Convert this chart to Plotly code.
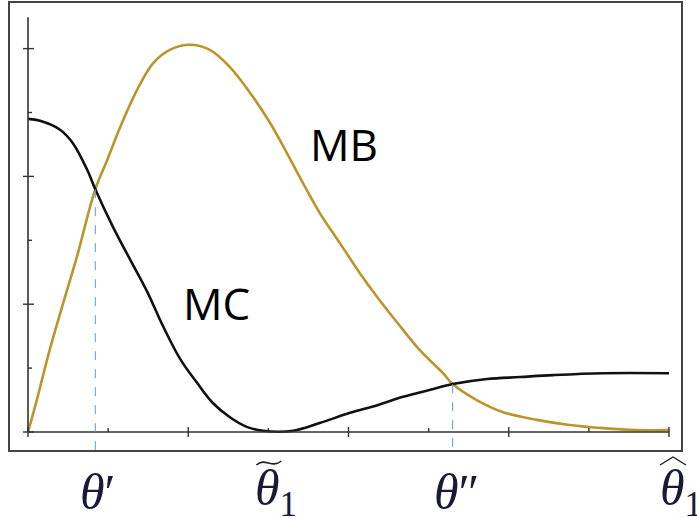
import plotly.graph_objects as go

W, H = 697, 518
X0PX, XUNIT = 28.0, 80.125
Y0PX, YUNIT = 432.0, 63.9
xr = [(0 - X0PX) / XUNIT, (W - X0PX) / XUNIT]
yr = [(Y0PX - H) / YUNIT, (Y0PX - 0) / YUNIT]

# ---- data ----
mc_x = [0.0, 0.15, 0.40, 0.56, 0.74, 0.84, 1.06, 1.27, 1.49, 1.68, 1.90, 2.11, 2.31, 2.52, 2.73,
        2.93, 3.31, 3.64, 4.02, 4.36, 4.68, 5.02, 5.30, 5.73, 6.14, 6.55, 7.18, 8.0]
mc_y = [4.90, 4.87, 4.73, 4.52, 4.10, 3.80, 3.21, 2.71, 2.19, 1.67, 1.14, 0.77, 0.45, 0.23, 0.08,
        0.02, 0.02, 0.14, 0.30, 0.42, 0.55, 0.66, 0.75, 0.83, 0.86, 0.89, 0.92, 0.92]
mb_x = [0.0, 0.11, 0.27, 0.44, 0.61, 0.84, 0.99, 1.15, 1.36, 1.56, 1.77, 2.02, 2.27, 2.52, 2.77,
        3.02, 3.23, 3.43, 3.64, 3.89, 4.14, 4.36, 4.61, 4.89, 5.18, 5.30, 5.60, 5.93, 6.35, 6.76,
        7.18, 7.60, 8.0]
mb_y = [0.0, 0.50, 1.28, 2.02, 2.74, 3.80, 4.26, 4.77, 5.35, 5.77, 5.98, 6.06, 5.98, 5.71, 5.31,
        4.84, 4.37, 3.90, 3.43, 2.96, 2.49, 2.11, 1.71, 1.28, 0.92, 0.75, 0.50, 0.31, 0.19, 0.11,
        0.06, 0.03, 0.03]
x_ticks = [0, 1, 2, 3, 4, 5, 6, 7, 8]
x_major = [0, 2, 4, 6, 8]
y_ticks = [0, 1, 2, 3, 4, 5, 6]
y_major = [0, 2, 4, 6]
y_top = 6.49
cross_x = [0.84, 5.30]
cross_y = [3.80, 0.75]
label_x = [0.84, 3.0, 5.30, 8.0]

GOLD = "#B9962C"
BLUE = "#5B9BD5"
AXC = "#333333"
LAB = "#1a1a36"

fig = go.Figure()
fig.add_trace(go.Scatter(x=mb_x, y=mb_y, mode="lines",
                         line=dict(color=GOLD, width=2.6, shape="spline", smoothing=1.0),
                         hoverinfo="skip"))
fig.add_trace(go.Scatter(x=mc_x, y=mc_y, mode="lines",
                         line=dict(color="#111111", width=2.6, shape="spline", smoothing=1.0),
                         hoverinfo="skip"))

shapes = []
shapes.append(dict(type="rect", xref="paper", yref="paper",
                   x0=9 / W, x1=682 / W, y0=1 - 451 / H, y1=1 - 2 / H,
                   line=dict(color="#444444", width=2), layer="below"))
shapes.append(dict(type="line", xref="x", yref="y", x0=0, x1=0, y0=0, y1=y_top,
                   line=dict(color=AXC, width=1.6)))
shapes.append(dict(type="line", xref="x", yref="y", x0=0, x1=8, y0=0, y1=0,
                   line=dict(color=AXC, width=1.6)))
for t in x_ticks:
    if t in x_major:
        a, b = -5 / YUNIT, 5 / YUNIT
    else:
        a, b = 0, 4 / YUNIT
    shapes.append(dict(type="line", xref="x", yref="y", x0=t, x1=t, y0=a, y1=b,
                       line=dict(color=AXC, width=1.4)))
for t in y_ticks:
    if t in y_major:
        a, b = -5 / XUNIT, 6 / XUNIT
    else:
        a, b = 0, 4 / XUNIT
    shapes.append(dict(type="line", xref="x", yref="y", x0=a, x1=b, y0=t, y1=t,
                       line=dict(color=AXC, width=1.4)))
for cx, cy in zip(cross_x, cross_y):
    shapes.append(dict(type="line", xref="x", yref="y", x0=cx, x1=cx, y0=cy, y1=(Y0PX - 452) / YUNIT,
                       line=dict(color=BLUE, width=1, dash="dash")))

def P(px, py):
    return px / W, 1 - py / H

# tilde over theta-tilde
tx = 3.0 * XUNIT + X0PX
ax, ay = P(tx - 12, 465)
bx, by = P(tx - 3, 457)
cx_, cy_ = P(tx + 3, 469)
dx, dy = P(tx + 13, 461)
shapes.append(dict(type="path", xref="paper", yref="paper",
                   path=f"M {ax},{ay} C {bx},{by} {cx_},{cy_} {dx},{dy}",
                   line=dict(color=LAB, width=1.6)))
# hat over theta-hat
hx = 8.0 * XUNIT + X0PX
p1 = P(hx - 9, 465)
p2 = P(hx + 4, 457)
p3 = P(hx + 17, 465)
shapes.append(dict(type="path", xref="paper", yref="paper",
                   path=f"M {p1[0]},{p1[1]} L {p2[0]},{p2[1]} L {p3[0]},{p3[1]}",
                   line=dict(color=LAB, width=1.4)))

SERIF = "Liberation Serif"
annotations = []
texts = ["<i>θ</i>′", "<i>θ</i><sub>1</sub>", "<i>θ</i>″", "<i>θ</i><sub>1</sub>"]
xshift = [3, 8, 4, 12]
for lx, tx_, xs in zip(label_x, texts, xshift):
    annotations.append(dict(x=lx, y=1 - 492 / H, xref="x", yref="paper", text=tx_,
                            showarrow=False, xanchor="center", yanchor="middle", xshift=xs,
                            font=dict(family=SERIF, size=50, color=LAB)))
annotations.append(dict(x=(344 - X0PX) / XUNIT, y=(Y0PX - 144) / YUNIT, xref="x", yref="y",
                        text="MB", showarrow=False, xanchor="center", yanchor="middle",
                        font=dict(family="Open Sans", size=44, color="#000000")))
annotations.append(dict(x=(216 - X0PX) / XUNIT, y=(Y0PX - 303) / YUNIT, xref="x", yref="y",
                        text="MC", showarrow=False, xanchor="center", yanchor="middle",
                        font=dict(family="Open Sans", size=44, color="#000000")))

fig.update_layout(
    width=W, height=H, margin=dict(l=0, r=0, t=0, b=0),
    paper_bgcolor="white", plot_bgcolor="white", showlegend=False,
    xaxis=dict(range=xr, visible=False, domain=[0, 1]),
    yaxis=dict(range=yr, visible=False, domain=[0, 1]),
    shapes=shapes, annotations=annotations,
)
fig.write_html("out.html", config={"displayModeBar": False},
               post_script="document.body.style.margin='0';document.body.style.overflow='hidden';")
